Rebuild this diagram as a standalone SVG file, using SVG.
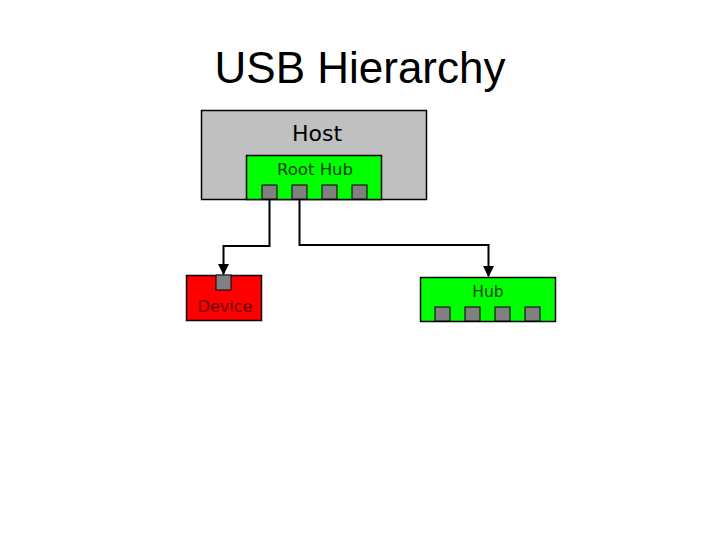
<svg xmlns="http://www.w3.org/2000/svg" width="720" height="540" viewBox="0 0 720 540">
<style>
.title{font-family:"Liberation Sans",Arial,sans-serif;font-size:44px;fill:#000}
.lbl{font-family:"DejaVu Sans",Verdana,sans-serif;text-anchor:middle}
.box{stroke:#000;stroke-width:1.5}
.port{fill:#808080;stroke:#000;stroke-width:1}
.conn{fill:none;stroke:#000;stroke-width:2}
</style>
<defs>
<marker id="arr" viewBox="0 0 10 10" refX="9" refY="5" markerWidth="5.5" markerHeight="5.5" orient="auto" markerUnits="strokeWidth">
<path d="M0,0 L10,5 L0,10 z" fill="#000"/>
</marker>
</defs>
<rect width="720" height="540" fill="#fff"/>
<text class="title" x="360" y="83" text-anchor="middle">USB Hierarchy</text>
<g id="host">
<rect class="box" x="201.5" y="110.5" width="225" height="89" fill="#c0c0c0"/>
<text class="lbl" x="317" y="141" font-size="22" fill="#000">Host</text>
</g>
<g id="roothub">
<rect class="box" x="246.5" y="155.5" width="135" height="44" fill="#00ff00"/>
<text class="lbl" x="315" y="175" font-size="16.5" fill="#004000">Root Hub</text>
<rect class="port" x="262" y="185" width="15" height="14"/>
<rect class="port" x="292" y="185" width="15" height="14"/>
<rect class="port" x="322" y="185" width="15" height="14"/>
<rect class="port" x="352" y="185" width="15" height="14"/>
</g>
<g id="device">
<rect class="box" x="186.5" y="275.5" width="75" height="45" fill="#ff0000"/>
<rect class="port" x="216" y="275" width="15" height="15"/>
<text class="lbl" x="225" y="312" font-size="16" fill="#600000">Device</text>
</g>
<g id="hub">
<rect class="box" x="420.5" y="277.5" width="135" height="44" fill="#00ff00"/>
<text class="lbl" x="488" y="297" font-size="15.5" fill="#004000">Hub</text>
<rect class="port" x="435" y="307" width="15" height="14"/>
<rect class="port" x="465" y="307" width="15" height="14"/>
<rect class="port" x="495" y="307" width="15" height="14"/>
<rect class="port" x="525" y="307" width="15" height="14"/>
</g>
<g id="connectors">
<path class="conn" d="M269.5,199 V246 H223.5 V274" marker-end="url(#arr)"/>
<path class="conn" d="M299.5,199 V245 H488.5 V276" marker-end="url(#arr)"/>
</g>
</svg>
